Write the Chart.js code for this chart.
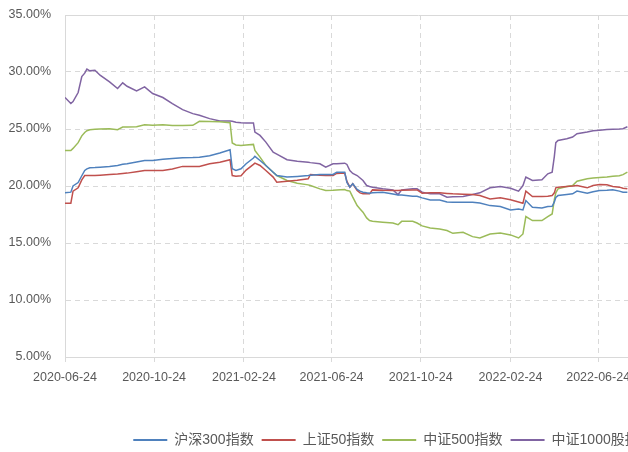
<!DOCTYPE html>
<html>
<head>
<meta charset="utf-8">
<script src="https://cdn.jsdelivr.net/npm/chart.js@4"></script>
<style>
  html, body { margin: 0; padding: 0; overflow: hidden; background: #fff; }
</style>
</head>
<body>
<canvas id="chartVol" width="792" height="452"></canvas>
<script>
// Fechas de muestreo (cada punto)
const startDate = '2020-06-24';
const dates = [
  '2020-06-24','2020-07-02','2020-07-05','2020-07-12','2020-07-17','2020-07-21','2020-07-24','2020-07-28',
  '2020-08-04','2020-08-11','2020-08-24','2020-09-04','2020-09-11','2020-09-17','2020-09-30','2020-10-11',
  '2020-10-22','2020-11-05','2020-11-18','2020-12-02','2020-12-16','2020-12-25','2021-01-08','2021-01-22',
  '2021-02-05','2021-02-08','2021-02-13','2021-02-20','2021-02-27','2021-03-09','2021-03-11','2021-03-18',
  '2021-03-26','2021-04-05','2021-04-10','2021-04-24','2021-05-08','2021-05-23','2021-05-26','2021-06-08',
  '2021-06-16','2021-06-26','2021-07-01','2021-07-12','2021-07-15','2021-07-19','2021-07-23','2021-07-29',
  '2021-08-02','2021-08-06','2021-08-11','2021-08-15','2021-08-19','2021-09-02','2021-09-16','2021-09-23',
  '2021-09-28','2021-10-13','2021-10-19','2021-10-26','2021-11-06','2021-11-19','2021-11-29','2021-12-07',
  '2021-12-21','2022-01-03','2022-01-13','2022-01-27','2022-02-10','2022-02-24','2022-03-07','2022-03-13',
  '2022-03-17','2022-03-26','2022-04-08','2022-04-16','2022-04-22','2022-04-25','2022-04-27','2022-04-30',
  '2022-05-12','2022-05-20','2022-05-26','2022-06-09','2022-06-17','2022-06-26','2022-07-06','2022-07-14',
  '2022-07-23','2022-07-28','2022-08-03'
];

// Series (%)
const hs300 = [
  19.40,19.46,20.00,20.30,20.90,21.36,21.50,21.60,
  21.62,21.65,21.72,21.80,21.90,21.95,22.10,22.24,
  22.24,22.35,22.42,22.48,22.50,22.53,22.65,22.89,
  23.18,21.51,21.36,21.51,21.95,22.45,22.60,22.24,
  21.80,21.21,20.92,20.78,20.84,20.92,20.95,21.01,
  21.00,21.01,21.21,21.20,20.30,19.90,20.20,19.70,
  19.55,19.45,19.40,19.37,19.40,19.46,19.30,19.22,
  19.20,19.10,19.10,18.96,18.78,18.78,18.60,18.58,
  18.58,18.58,18.50,18.28,18.20,17.90,17.99,17.90,
  18.72,18.14,18.08,18.20,18.22,18.60,19.00,19.16,
  19.25,19.31,19.55,19.37,19.50,19.60,19.62,19.66,
  19.55,19.46,19.46
];
const sz50 = [
  18.49,18.49,19.55,19.84,20.54,20.92,20.92,20.92,
  20.92,20.95,21.01,21.05,21.10,21.13,21.25,21.36,
  21.36,21.36,21.50,21.72,21.72,21.72,21.95,22.09,
  22.30,20.92,20.85,20.90,21.40,21.90,22.01,21.80,
  21.36,20.78,20.34,20.42,20.50,20.63,21.01,20.95,
  20.92,20.92,21.10,21.13,20.40,19.90,20.19,19.60,
  19.40,19.31,19.31,19.31,19.66,19.62,19.60,19.60,
  19.62,19.66,19.66,19.37,19.40,19.40,19.35,19.31,
  19.28,19.25,19.16,18.87,18.96,18.80,18.60,18.49,
  19.55,19.08,19.08,19.10,19.16,19.40,19.84,19.90,
  19.96,20.00,20.04,19.84,20.04,20.13,20.10,19.96,
  19.90,19.80,19.75
];
const zz500 = [
  23.12,23.12,23.30,23.80,24.40,24.70,24.85,24.94,
  24.97,25.00,25.03,24.94,25.17,25.17,25.20,25.38,
  25.32,25.38,25.30,25.30,25.32,25.67,25.65,25.63,
  25.55,23.77,23.60,23.56,23.60,23.65,23.12,22.53,
  21.80,21.21,20.92,20.48,20.25,20.10,20.04,19.75,
  19.60,19.62,19.65,19.69,19.60,19.55,19.02,18.28,
  17.99,17.70,17.20,16.97,16.90,16.82,16.75,16.60,
  16.90,16.90,16.75,16.50,16.32,16.23,16.10,15.85,
  15.94,15.56,15.45,15.79,15.88,15.71,15.44,15.79,
  17.32,16.97,16.97,17.32,17.55,18.80,19.40,19.75,
  19.96,20.04,20.42,20.63,20.70,20.75,20.78,20.85,
  20.90,21.00,21.21
];
const zz1000 = [
  27.76,27.23,27.40,28.20,29.60,29.90,30.25,30.10,
  30.16,29.72,29.13,28.55,29.05,28.75,28.34,28.69,
  28.11,27.76,27.23,26.70,26.35,26.20,25.91,25.70,
  25.70,25.68,25.60,25.55,25.53,25.53,24.73,24.44,
  23.85,22.97,22.80,22.30,22.18,22.09,22.05,21.95,
  21.65,21.95,21.95,22.00,21.89,21.36,21.10,20.92,
  20.70,20.48,20.04,19.95,19.90,19.75,19.66,19.25,
  19.66,19.75,19.75,19.46,19.31,19.31,19.02,19.05,
  19.08,19.25,19.40,19.84,19.96,19.80,19.55,20.04,
  20.78,20.48,20.54,21.07,21.21,22.60,23.80,24.00,
  24.15,24.30,24.59,24.73,24.85,24.90,24.95,24.97,
  25.00,25.03,25.20
];

// Etiquetas del eje X
const tickLabels = ['2020-06-24','2020-10-24','2021-02-24','2021-06-24','2021-10-24','2022-02-24','2022-06-24','2022-10-24'];
const yTicks = [5, 10, 15, 20, 25, 30, 35];
const seriesNames = ['沪深300指数', '上证50指数', '中证500指数', '中证1000股指'];
const seriesColors = ['#4F81BD', '#C0504D', '#9BBB59', '#8064A2'];

// Días desde la fecha inicial
function dayOffset(d) {
  return (Date.parse(d) - Date.parse(startDate)) / 86400000;
}

// El gráfico original está recortado a la derecha: el eje sigue más allá del borde
const xMax = 968;

const allSeries = [hs300, sz50, zz500, zz1000];
const datasets = allSeries.map((vals, s) => ({
  label: seriesNames[s],
  data: dates.map((d, i) => ({ x: dayOffset(d), y: vals[i] })),
  borderColor: seriesColors[s],
  backgroundColor: seriesColors[s],
  borderWidth: 1.5,
  pointRadius: 0,
  tension: 0
}));

const gridColor = '#d9d9d9';
const textColor = '#595959';
Chart.defaults.font.family = '"Liberation Sans", "Noto Sans CJK SC", sans-serif';
Chart.defaults.color = textColor;

// Borde superior sólido del área de trazado
const topBorder = {
  id: 'topBorder',
  beforeDatasetsDraw(c) {
    const a = c.chartArea;
    const g = c.ctx;
    g.save();
    g.strokeStyle = gridColor;
    g.lineWidth = 1;
    g.beginPath();
    g.moveTo(a.left, Math.round(a.top) + 0.5);
    g.lineTo(a.right, Math.round(a.top) + 0.5);
    g.stroke();
    g.restore();
  }
};

const ctx = document.getElementById('chartVol').getContext('2d');
const chart = new Chart(ctx, {
  type: 'line',
  data: { datasets: datasets },
  plugins: [topBorder],
  options: {
    responsive: false,
    animation: false,
    layout: { padding: { top: 15, right: 20, bottom: -5, left: 0 } },
    plugins: {
      tooltip: { enabled: false },
      legend: {
        position: 'bottom',
        labels: {
          boxWidth: 34,
          boxHeight: 2,
          padding: 8,
          color: textColor,
          font: { size: 14 },
          generateLabels: function(c) {
            return c.data.datasets.map((ds, i) => ({
              text: ds.label,
              fillStyle: ds.borderColor,
              strokeStyle: ds.borderColor,
              lineWidth: 0,
              datasetIndex: i,
              fontColor: textColor
            }));
          }
        }
      }
    },
    scales: {
      x: {
        type: 'linear',
        min: 0,
        max: xMax,
        afterBuildTicks: function(scale) {
          scale.ticks = tickLabels.map(d => ({ value: dayOffset(d) }));
        },
        afterFit: function(scale) { scale.height = 68; },
        ticks: {
          padding: 8,
          maxRotation: 0,
          autoSkip: false,
          font: { size: 12.5 },
          callback: function(value, index) { return tickLabels[index]; }
        },
        grid: {
          color: gridColor,
          tickColor: gridColor,
          tickLength: 5,
          drawTicks: true
        },
        border: { color: gridColor, dash: [5, 4] }
      },
      y: {
        min: 5,
        max: 35,
        afterBuildTicks: function(scale) {
          scale.ticks = yTicks.map(v => ({ value: v }));
        },
        afterFit: function(scale) {
          scale.width = 65;
          scale.paddingTop = 8;
          scale.paddingBottom = 8;
        },
        ticks: {
          padding: 14,
          font: { size: 12.5 },
          callback: function(value) { return value.toFixed(2) + '%'; }
        },
        grid: {
          color: function(c) { return c.tick && c.tick.value === 35 ? 'rgba(0,0,0,0)' : gridColor; },
          drawTicks: false
        },
        border: { color: gridColor, dash: [5, 4] }
      }
    }
  }
});
</script>
</body>
</html>
